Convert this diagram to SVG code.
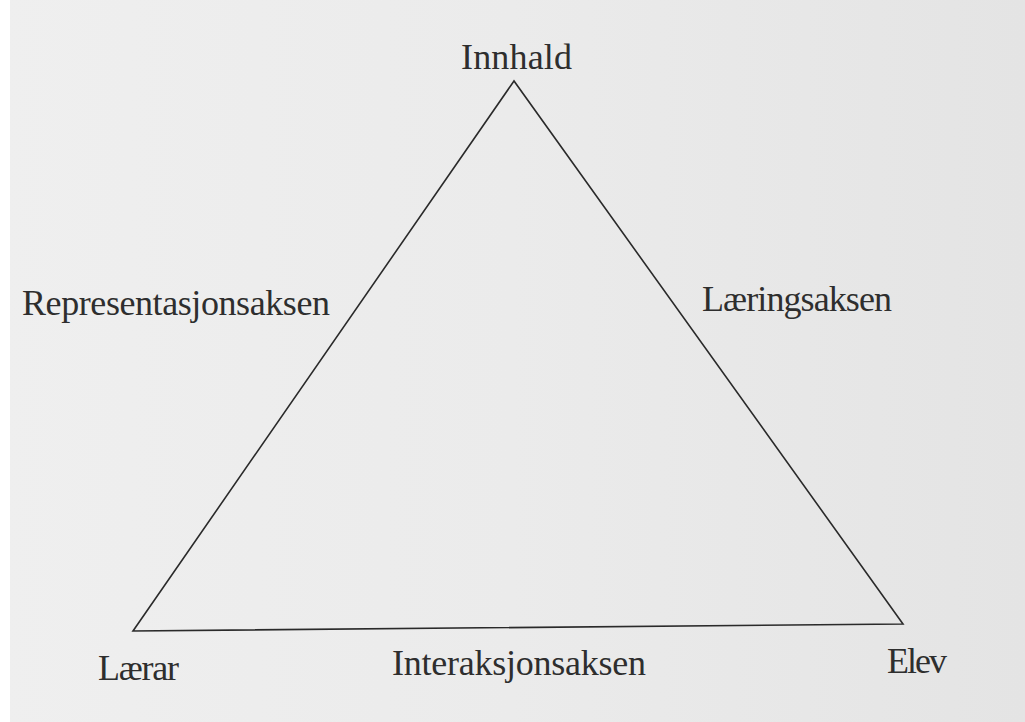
<svg xmlns="http://www.w3.org/2000/svg" width="1025" height="722" viewBox="0 0 1025 722">
  <defs>
    <linearGradient id="bg" x1="0" y1="0" x2="1" y2="0">
      <stop offset="0" stop-color="#efefef"/>
      <stop offset="0.5" stop-color="#ebebeb"/>
      <stop offset="1" stop-color="#e4e4e4"/>
    </linearGradient>
  </defs>
  <style>
    .lbl { font-family: "Liberation Serif", "Times New Roman", serif; font-size: 36px; fill: #2e2e2e; }
    .edge { fill: none; stroke: #2a2a2a; stroke-width: 1.6; stroke-linejoin: miter; }
  </style>
  <rect x="0" y="0" width="1025" height="722" fill="url(#bg)"/>
  <rect x="0" y="0" width="10" height="722" fill="#ffffff"/>
  <g id="connectors">
    <path class="edge" d="M514 81 L133 631 L903 624 Z"/>
  </g>
  <g id="node-innhald"><text class="lbl" x="461" y="69" textLength="111">Innhald</text></g>
  <g id="node-laerar"><text class="lbl" x="98" y="680" textLength="81">Lærar</text></g>
  <g id="node-elev"><text class="lbl" x="887" y="673" textLength="60">Elev</text></g>
  <g id="label-representasjonsaksen"><text class="lbl" x="22" y="315" textLength="308">Representasjonsaksen</text></g>
  <g id="label-laeringsaksen"><text class="lbl" x="702" y="311" textLength="190">Læringsaksen</text></g>
  <g id="label-interaksjonsaksen"><text class="lbl" x="392" y="675" textLength="254">Interaksjonsaksen</text></g>
</svg>
